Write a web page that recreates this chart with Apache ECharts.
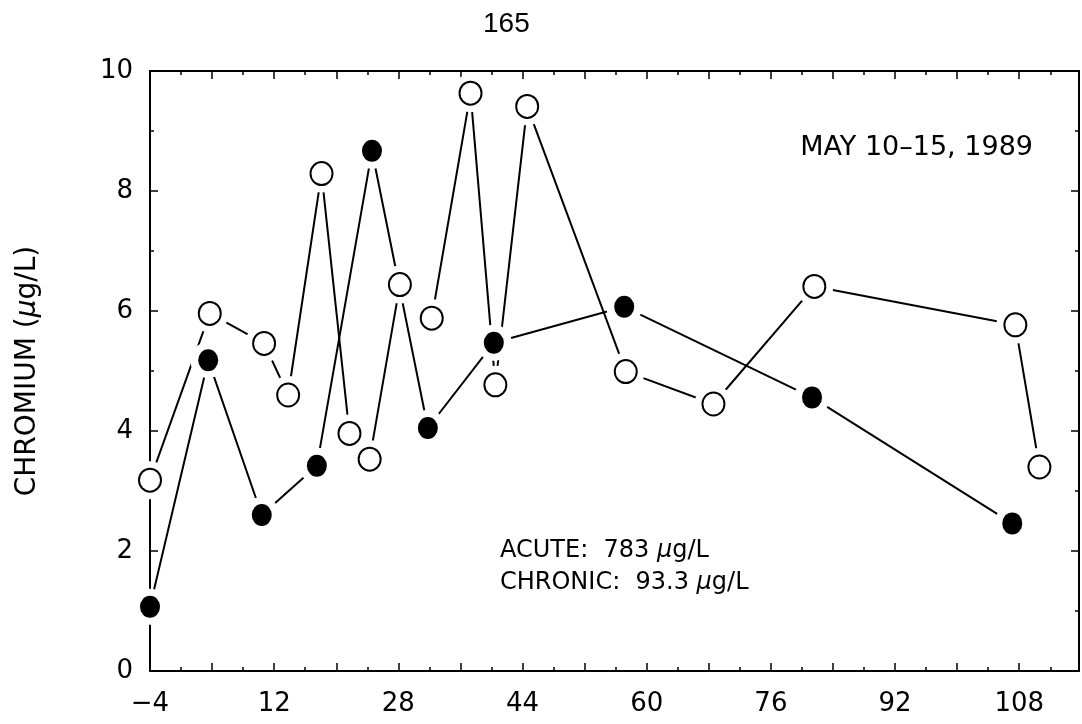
<!DOCTYPE html>
<html>
<head>
<meta charset="utf-8">
<script src="https://cdn.jsdelivr.net/npm/echarts@6/dist/echarts.min.js"></script>
<style>
  html, body { margin: 0; padding: 0; background: #fff; }
  #chart { width: 1082px; height: 724px; }
</style>
</head>
<body>
<div id="chart"></div>
<script>
// day of sampling vs chromium (ug/L)
var openDays = [-4, 3.7, 10.7, 13.8, 18.1, 21.7, 24.3, 28.2, 32.3, 37.3, 40.5, 44.6, 57.3, 68.6, 81.6, 107.5, 110.6]
var openChromium = [3.18, 5.96, 5.46, 4.6, 8.29, 3.96, 3.53, 6.44, 5.88, 9.63, 4.77, 9.41, 4.99, 4.45, 6.41, 5.77, 3.4]
// the open line is not drawn after these points
var openBreaks = [5, 7]

var filledDays = [-4, 3.5, 10.4, 17.5, 24.6, 31.8, 40.3, 57.1, 81.3, 107.1]
var filledChromium = [1.07, 5.18, 2.6, 3.42, 8.67, 4.05, 5.47, 6.07, 4.56, 2.46]

var xTicks = [-4, 12, 28, 44, 60, 76, 92, 108]
var yTicks = [0, 2, 4, 6, 8, 10]

var font = 'DejaVu Sans'

function pairs(xs, ys) {
  var out = []
  xs.forEach(function (x, i) { out.push([x, ys[i]]) })
  return out
}

var openData = pairs(openDays, openChromium)
var filledData = pairs(filledDays, filledChromium)

// line data for the open points with the breaks put in
var openLine = []
openData.forEach(function (p, i) {
  openLine.push(p)
  if (openBreaks.indexOf(i) >= 0) openLine.push([p[0], '-'])
})

function xAxisOf(pos, labels) {
  return {
    type: 'value',
    position: pos,
    min: -4,
    max: 115.7,
    interval: 8,
    axisLine: { show: true, onZero: false, lineStyle: { color: '#000', width: 2 } },
    axisTick: { show: true, inside: true, length: 8, lineStyle: { color: '#000', width: 1.5 } },
    minorTick: { show: true, splitNumber: 2, length: 4, lineStyle: { color: '#000', width: 1.5 } },
    splitLine: { show: false },
    axisLabel: {
      show: labels,
      margin: 20,
      color: '#000',
      fontFamily: font,
      fontSize: 26,
      formatter: function (v) {
        if (xTicks.indexOf(v) < 0) return ''
        return v < 0 ? '\u2212' + Math.abs(v) : String(v)
      }
    }
  }
}

function yAxisOf(pos, labels) {
  return {
    type: 'value',
    position: pos,
    min: 0,
    max: 10,
    interval: 2,
    axisLine: { show: true, onZero: false, lineStyle: { color: '#000', width: 2 } },
    axisTick: { show: true, inside: true, length: 8, lineStyle: { color: '#000', width: 1.5 } },
    minorTick: { show: true, splitNumber: 2, length: 4, lineStyle: { color: '#000', width: 1.5 } },
    splitLine: { show: false },
    axisLabel: {
      show: labels,
      margin: 17,
      color: '#000',
      fontFamily: font,
      fontSize: 26,
      formatter: function (v) { return yTicks.indexOf(v) < 0 ? '' : String(v) }
    }
  }
}

var yMain = yAxisOf('left', true)
yMain.name = 'CHROMIUM ({mu|\u03bc}g/L)'
yMain.nameLocation = 'middle'
yMain.nameGap = 108
yMain.nameTextStyle = {
  color: '#000',
  fontFamily: font,
  fontSize: 28,
  rich: { mu: { fontFamily: font, fontSize: 28, fontStyle: 'italic', color: '#000' } }
}

var chart = echarts.init(document.getElementById('chart'), null, { renderer: 'canvas' })
var option = {
  backgroundColor: '#fff',
  animation: false,
  grid: { left: 150, right: 2, top: 71, bottom: 53 },
  xAxis: [xAxisOf('bottom', true), xAxisOf('top', false)],
  yAxis: [yMain, yAxisOf('right', false)],
  graphic: [
    {
      type: 'text', left: 483, top: 10,
      style: { text: '165', font: '28px "Liberation Sans"', fill: '#000' }
    },
    {
      type: 'text', right: 49, top: 134,
      style: { text: 'MAY 10\u201315, 1989', font: '27px "DejaVu Sans"', fill: '#000' }
    },
    {
      type: 'text', left: 500, top: 535,
      style: {
        text: 'ACUTE:  783 {mu|\u03bc}g/L\nCHRONIC:  93.3 {mu|\u03bc}g/L',
        font: '24px "DejaVu Sans"', fill: '#000', lineHeight: 32,
        rich: { mu: { font: 'italic 24px "DejaVu Sans"', fill: '#000' } }
      }
    }
  ],
  series: [
    {
      name: 'open line', type: 'line', data: openLine, showSymbol: false, connectNulls: false, z: 2, silent: true,
      lineStyle: { color: '#000', width: 2 }
    },
    {
      name: 'filled line', type: 'line', data: filledData, showSymbol: false, z: 2, silent: true,
      lineStyle: { color: '#000', width: 2 }
    },
    {
      name: 'open gap', type: 'scatter', data: openData, symbol: 'circle', symbolSize: 38, z: 3, silent: true,
      itemStyle: { color: '#fff', opacity: 1 }
    },
    {
      name: 'filled gap', type: 'scatter', data: filledData, symbol: 'circle', symbolSize: 36, z: 3, silent: true,
      itemStyle: { color: '#fff', opacity: 1 }
    },
    {
      name: 'open', type: 'scatter', data: openData, symbol: 'circle', symbolSize: [22, 23], z: 4,
      itemStyle: { color: '#fff', borderColor: '#000', borderWidth: 2, opacity: 1 }
    },
    {
      name: 'filled', type: 'scatter', data: filledData, symbol: 'circle', symbolSize: [20, 22], z: 4,
      itemStyle: { color: '#000', opacity: 1 }
    }
  ]
}
chart.setOption(option)
</script>
</body>
</html>
